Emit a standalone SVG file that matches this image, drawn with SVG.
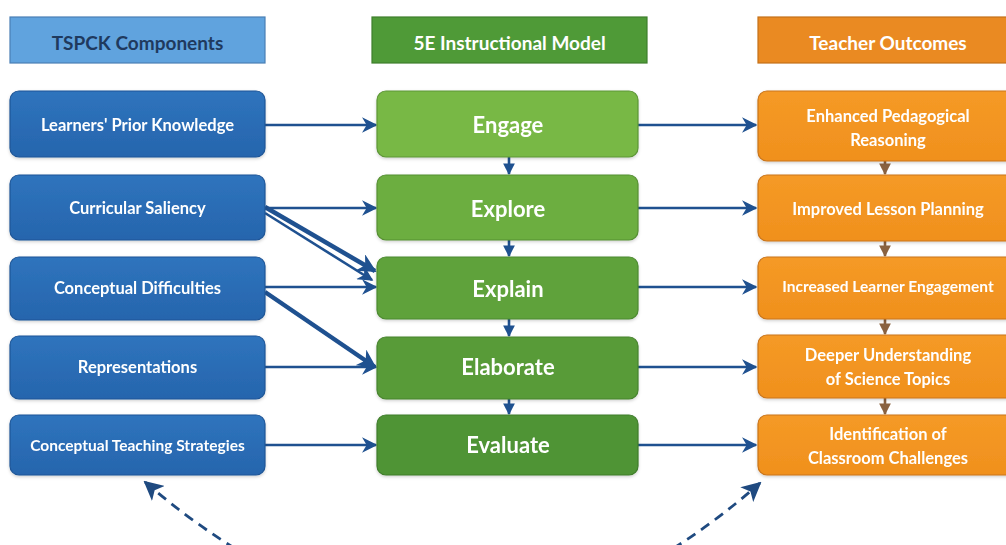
<svg xmlns="http://www.w3.org/2000/svg" width="1006" height="545" viewBox="0 0 1006 545">
  <style>
    text { font-family: Lato, "Open Sans", "Liberation Sans", sans-serif; font-weight: bold; text-anchor: middle; dominant-baseline: central; fill: #ffffff; }
    .hdr { font-size: 19px; }
    .lt { font-size: 16.5px; }
    .mt { font-size: 22px; }
    .rt { font-size: 16.5px; }
    .blue { fill: url(#gBlue); stroke: #1d5597; stroke-width: 1.2; }
    .green1 { fill: #78b844; stroke: #5c9636; stroke-width: 1.2; }
    .green2 { fill: #6cae3f; stroke: #558f33; stroke-width: 1.2; }
    .green3 { fill: #5fa23a; stroke: #4c8a30; stroke-width: 1.2; }
    .green4 { fill: #589b38; stroke: #47842e; stroke-width: 1.2; }
    .green5 { fill: #4f9435; stroke: #3f7d2b; stroke-width: 1.2; }
    .orange { fill: url(#gOrange); stroke: #c9741a; stroke-width: 1.2; }
    .flow { stroke: #1f5190; stroke-width: 2.6; fill: none; marker-end: url(#arrBlue); }
    .thick { stroke: #1f5190; stroke-width: 4.5; fill: none; marker-end: url(#arrBlueS); }
    .down { stroke: #1f5190; stroke-width: 2.6; fill: none; marker-end: url(#arrBlueSm); }
    .downB { stroke: #8a6240; stroke-width: 2.6; fill: none; marker-end: url(#arrBrown); }
    .dash { stroke: #1f4a80; stroke-width: 2.8; fill: none; stroke-dasharray: 10 7; marker-start: url(#arrDash); marker-end: url(#arrDash); }
  </style>
  <defs>
    <linearGradient id="gBlue" x1="0" y1="0" x2="0" y2="1">
      <stop offset="0" stop-color="#2f74bd"/>
      <stop offset="1" stop-color="#2665ad"/>
    </linearGradient>
    <linearGradient id="gOrange" x1="0" y1="0" x2="0" y2="1">
      <stop offset="0" stop-color="#f59a26"/>
      <stop offset="1" stop-color="#f0901d"/>
    </linearGradient>
    <filter id="sh" x="-10%" y="-10%" width="120%" height="130%">
      <feDropShadow dx="0" dy="1.5" stdDeviation="1.5" flood-color="#000" flood-opacity="0.18"/>
    </filter>
    <marker id="arrBlue" viewBox="0 0 10 10" refX="9" refY="5" markerWidth="6" markerHeight="6" orient="auto" markerUnits="strokeWidth">
      <path d="M0,0 L10,5 L0,10 L3,5 Z" fill="#1f5190"/>
    </marker>
    <marker id="arrBlueS" viewBox="0 0 10 10" refX="9" refY="5" markerWidth="4.2" markerHeight="4.2" orient="auto" markerUnits="strokeWidth">
      <path d="M0,0 L10,5 L0,10 L3,5 Z" fill="#1f5190"/>
    </marker>
    <marker id="arrBlueSm" viewBox="0 0 10 10" refX="9" refY="5" markerWidth="4.5" markerHeight="4.5" orient="auto" markerUnits="strokeWidth">
      <path d="M0,0 L10,5 L0,10 Z" fill="#1f5190"/>
    </marker>
    <marker id="arrBrown" viewBox="0 0 10 10" refX="9" refY="5" markerWidth="4.5" markerHeight="4.5" orient="auto" markerUnits="strokeWidth">
      <path d="M0,0 L10,5 L0,10 Z" fill="#8a6240"/>
    </marker>
    <marker id="arrDash" viewBox="0 0 10 10" refX="9" refY="5" markerWidth="7" markerHeight="7" orient="auto-start-reverse" markerUnits="strokeWidth">
      <path d="M0,0 L10,5 L0,10 L2.5,5 Z" fill="#1f4a80"/>
    </marker>
  </defs>

  <rect width="1006" height="545" fill="#ffffff"/>

  <!-- column headers -->
  <g id="hdr-tspck">
    <rect x="10" y="17" width="255" height="46" fill="#60a3de" stroke="#4a7fb5" stroke-width="1.2"/>
    <text class="hdr" x="137.5" y="42" style="fill:#1f3a5e">TSPCK Components</text>
  </g>
  <g id="hdr-5e">
    <rect x="372" y="17" width="275" height="46" fill="#4f9a37" stroke="#3f7f2c" stroke-width="1.2"/>
    <text class="hdr" x="509.5" y="42">5E Instructional Model</text>
  </g>
  <g id="hdr-outcomes">
    <rect x="758" y="17" width="260" height="46" fill="#ea8a22" stroke="#c4711a" stroke-width="1.2"/>
    <text class="hdr" x="888" y="42">Teacher Outcomes</text>
  </g>

  <!-- connectors -->
  <g id="connectors">
    <!-- TSPCK components to 5E phases -->
    <line class="flow" x1="265" y1="125" x2="376" y2="125"/>
    <line class="flow" x1="265" y1="208" x2="376" y2="208"/>
    <line class="flow" x1="265" y1="287" x2="376" y2="287"/>
    <line class="flow" x1="265" y1="367" x2="376" y2="367"/>
    <line class="flow" x1="265" y1="445" x2="376" y2="445"/>
    <line class="thick" x1="265" y1="207" x2="375" y2="271"/>
    <line class="flow" x1="265" y1="213" x2="372" y2="280"/>
    <line class="thick" x1="265" y1="292" x2="375" y2="367"/>
    <!-- 5E sequence -->
    <line class="down" x1="509" y1="157" x2="509" y2="174"/>
    <line class="down" x1="509" y1="240" x2="509" y2="256"/>
    <line class="down" x1="509" y1="319" x2="509" y2="336"/>
    <line class="down" x1="509" y1="399" x2="509" y2="414"/>
    <!-- 5E phases to outcomes -->
    <line class="flow" x1="638" y1="125" x2="756" y2="125"/>
    <line class="flow" x1="638" y1="208" x2="756" y2="208"/>
    <line class="flow" x1="638" y1="287" x2="756" y2="287"/>
    <line class="flow" x1="638" y1="367" x2="756" y2="367"/>
    <line class="flow" x1="638" y1="445" x2="756" y2="445"/>
    <!-- outcome sequence -->
    <line class="downB" x1="885" y1="161" x2="885" y2="174"/>
    <line class="downB" x1="885" y1="241" x2="885" y2="256"/>
    <line class="downB" x1="885" y1="319" x2="885" y2="334"/>
    <line class="downB" x1="885" y1="398" x2="885" y2="414"/>
    <!-- feedback loop -->
    <path class="dash" d="M145,482 Q300,615 454,620 Q610,615 760,483"/>
  </g>

  <!-- TSPCK component nodes -->
  <g id="n-prior" filter="url(#sh)">
    <rect class="blue" x="10" y="91" width="255" height="66" rx="9"/>
    <text class="lt" x="137.5" y="125">Learners' Prior Knowledge</text>
  </g>
  <g id="n-saliency" filter="url(#sh)">
    <rect class="blue" x="10" y="175" width="255" height="65" rx="9"/>
    <text class="lt" x="137.5" y="208">Curricular Saliency</text>
  </g>
  <g id="n-difficulties" filter="url(#sh)">
    <rect class="blue" x="10" y="257" width="255" height="63" rx="9"/>
    <text class="lt" x="137.5" y="288">Conceptual Difficulties</text>
  </g>
  <g id="n-representations" filter="url(#sh)">
    <rect class="blue" x="10" y="336" width="255" height="63" rx="9"/>
    <text class="lt" x="137.5" y="367">Representations</text>
  </g>
  <g id="n-strategies" filter="url(#sh)">
    <rect class="blue" x="10" y="415" width="255" height="60" rx="9"/>
    <text class="lt" x="137.5" y="445" style="font-size:15.5px">Conceptual Teaching Strategies</text>
  </g>

  <!-- 5E phase nodes -->
  <g id="n-engage" filter="url(#sh)">
    <rect class="green1" x="377" y="91" width="261" height="66" rx="9"/>
    <text class="mt" x="508" y="124">Engage</text>
  </g>
  <g id="n-explore" filter="url(#sh)">
    <rect class="green2" x="377" y="175" width="261" height="65" rx="9"/>
    <text class="mt" x="508" y="208">Explore</text>
  </g>
  <g id="n-explain" filter="url(#sh)">
    <rect class="green3" x="377" y="257" width="261" height="62" rx="9"/>
    <text class="mt" x="508" y="288">Explain</text>
  </g>
  <g id="n-elaborate" filter="url(#sh)">
    <rect class="green4" x="377" y="337" width="261" height="62" rx="9"/>
    <text class="mt" x="508" y="366">Elaborate</text>
  </g>
  <g id="n-evaluate" filter="url(#sh)">
    <rect class="green5" x="377" y="415" width="261" height="60" rx="9"/>
    <text class="mt" x="508" y="444">Evaluate</text>
  </g>

  <!-- teacher outcome nodes -->
  <g id="n-reasoning" filter="url(#sh)">
    <rect class="orange" x="758" y="91" width="262" height="70" rx="9"/>
    <text class="rt" x="888" y="116">Enhanced Pedagogical</text>
    <text class="rt" x="888" y="140">Reasoning</text>
  </g>
  <g id="n-planning" filter="url(#sh)">
    <rect class="orange" x="758" y="175" width="262" height="66" rx="9"/>
    <text class="rt" x="888" y="209">Improved Lesson Planning</text>
  </g>
  <g id="n-engagement" filter="url(#sh)">
    <rect class="orange" x="758" y="257" width="262" height="62" rx="9"/>
    <text class="rt" x="888" y="286" style="font-size:15.5px">Increased Learner Engagement</text>
  </g>
  <g id="n-understanding" filter="url(#sh)">
    <rect class="orange" x="758" y="335" width="262" height="63" rx="9"/>
    <text class="rt" x="888" y="355">Deeper Understanding</text>
    <text class="rt" x="888" y="379">of Science Topics</text>
  </g>
  <g id="n-challenges" filter="url(#sh)">
    <rect class="orange" x="758" y="415" width="262" height="60" rx="9"/>
    <text class="rt" x="888" y="434">Identification of</text>
    <text class="rt" x="888" y="458">Classroom Challenges</text>
  </g>
</svg>
